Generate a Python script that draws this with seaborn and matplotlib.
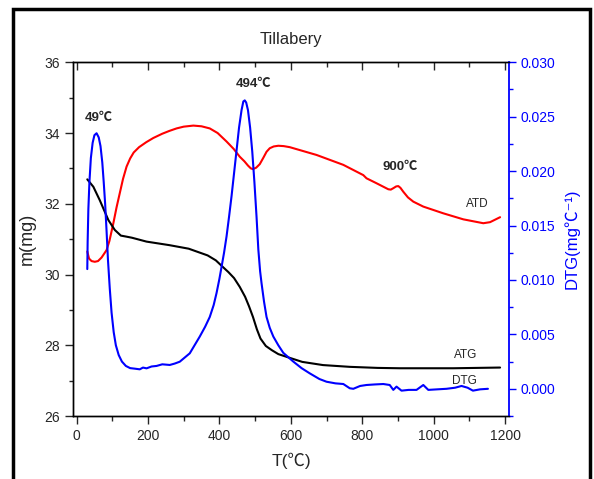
import matplotlib
matplotlib.use("Agg")
import matplotlib.pyplot as plt
import matplotlib.patches as mpatches
from matplotlib.ticker import MultipleLocator, FormatStrFormatter
import pandas as pd
import seaborn as sns

# ATG (mass, left axis)
atg_t = [30, 47, 65, 89, 107, 124, 140, 155, 196, 260, 314, 367, 390, 410, 425, 441,
         457, 472, 483, 494, 505, 515, 530, 547, 565, 589, 632, 690, 765, 843, 905,
         1055, 1186]
atg_m = [32.69, 32.48, 32.1, 31.54, 31.26, 31.1, 31.07, 31.04, 30.93, 30.83, 30.73,
         30.54, 30.4, 30.21, 30.07, 29.9, 29.65, 29.37, 29.1, 28.8, 28.45, 28.19,
         27.98, 27.86, 27.75, 27.67, 27.53, 27.44, 27.39, 27.36, 27.35, 27.35, 27.37]

# ATD (left axis)
atd_t = [30, 35, 42, 51, 60, 70, 78, 84, 92, 103, 112, 121, 130, 140, 150, 160, 175,
         195, 215, 240, 260, 280, 300, 327, 350, 373, 395, 420, 440, 457, 470, 480,
         488, 494, 503, 513, 523, 532, 541, 552, 565, 580, 597, 672, 747, 803, 812,
         840, 873, 880, 887, 895, 901, 907, 915, 928, 943, 971, 1027, 1083, 1139,
         1158, 1186]
atd_m = [30.65, 30.45, 30.38, 30.36, 30.38, 30.48, 30.6, 30.69, 30.95, 31.45, 31.9,
         32.3, 32.7, 33.05, 33.28, 33.45, 33.6, 33.74, 33.86, 33.98, 34.06, 34.13,
         34.18, 34.21, 34.19, 34.13, 34.0, 33.76, 33.55, 33.33, 33.2, 33.08, 33.0,
         32.98, 33.02, 33.12, 33.3, 33.47, 33.57, 33.62, 33.64, 33.63, 33.60, 33.38,
         33.10, 32.81, 32.72, 32.58, 32.41, 32.40, 32.44, 32.49, 32.50, 32.45, 32.34,
         32.18, 32.06, 31.92, 31.73, 31.56, 31.45, 31.48, 31.62]

# DTG (right axis)
dtg_t = [30, 31, 33, 36, 40, 45, 50, 56, 62, 67, 72, 76, 80, 84, 88, 93, 98, 104,
         110, 118, 127, 138, 150, 163, 177, 186, 196, 210, 224, 240, 261, 275, 289,
         317, 345, 360, 373, 384, 392, 400, 406, 413, 420, 427, 434, 441, 448, 455,
         462, 467, 471, 475, 480, 486, 492, 498, 504, 509, 514, 518, 525, 532, 541,
         551, 565, 579, 593, 607, 630, 653, 680, 700, 725, 747, 765, 775, 794, 812,
         835, 859, 877, 887, 896, 910, 930, 952, 971, 985, 1010, 1036, 1060, 1078,
         1095, 1110, 1130, 1152]
dtg_v = [0.0110, 0.0135, 0.0165, 0.0190, 0.0212, 0.0226, 0.0233, 0.02348, 0.0231,
         0.0223, 0.0208, 0.0190, 0.0170, 0.0145, 0.0118, 0.0092, 0.0070, 0.0052,
         0.0040, 0.0031, 0.0025, 0.0021, 0.0019, 0.00185, 0.00179, 0.00195, 0.00188,
         0.00205, 0.0021, 0.00225, 0.00219, 0.00232, 0.00249, 0.00326, 0.0048,
         0.0057, 0.0066, 0.0077, 0.0088, 0.0101, 0.0112, 0.0125, 0.0140, 0.0158,
         0.0177, 0.0198, 0.0219, 0.0240, 0.0256, 0.0264, 0.0265, 0.0263, 0.0256,
         0.0240, 0.0218, 0.0190, 0.0158, 0.0128, 0.0108, 0.0097, 0.0080, 0.0066,
         0.0056, 0.0048, 0.0040, 0.0033, 0.0029, 0.0025, 0.0019, 0.00142, 0.0009,
         0.00065, 0.0005, 0.00044, 0.00005, 0.0, 0.00026, 0.00035, 0.0004, 0.00044,
         0.00035, -0.0001, 0.0002, -0.00017, -0.0001, -0.0001, 0.00035, -0.0001,
         -0.00005, 0.0, 0.0001, 0.00026, 0.0001, -0.00017, -0.00005, 0.0]

annotations = [
    ("49℃", 62, 34.42, "bold", 9.5),
    ("494℃", 497, 35.38, "bold", 9.5),
    ("900℃", 906, 33.05, "bold", 9.5),
    ("ATD", 1122, 31.99, "normal", 8.5),
    ("ATG", 1090, 27.73, "normal", 8.5),
    ("DTG", 1087, 27.0, "normal", 8.5),
]

FONTS = ["Liberation Sans", "Noto Sans CJK SC", "DejaVu Sans"]
BLUE = "#0000ff"


def main() -> None:
    sns.set_style("ticks")
    plt.rcParams["font.family"] = FONTS

    atg = pd.DataFrame({"T": atg_t, "m": atg_m})
    atd = pd.DataFrame({"T": atd_t, "m": atd_m})
    dtg = pd.DataFrame({"T": dtg_t, "v": dtg_v})

    fig = plt.figure(figsize=(5.94, 4.79), dpi=100)
    ax = fig.add_axes([0.1229, 0.1315, 0.734, 0.7385])
    ax2 = ax.twinx()

    sns.lineplot(data=atd, x="T", y="m", ax=ax, color="#ff0000", lw=1.5, estimator=None)
    sns.lineplot(data=atg, x="T", y="m", ax=ax, color="black", lw=1.5, estimator=None)
    sns.lineplot(data=dtg, x="T", y="v", ax=ax2, color=BLUE, lw=1.5, estimator=None)

    ax.set_xlim(-10, 1211)
    ax.set_ylim(26, 36)
    ax2.set_ylim(-0.0025, 0.030)

    ax.xaxis.set_major_locator(MultipleLocator(200))
    ax.xaxis.set_minor_locator(MultipleLocator(100))
    ax.yaxis.set_major_locator(MultipleLocator(2))
    ax.yaxis.set_minor_locator(MultipleLocator(1))
    ax2.yaxis.set_major_locator(MultipleLocator(0.005))
    ax2.yaxis.set_minor_locator(MultipleLocator(0.0025))
    ax2.yaxis.set_major_formatter(FormatStrFormatter("%.3f"))

    ax.tick_params(axis="x", which="major", direction="out", length=6, width=1, labelsize=10)
    ax.tick_params(axis="x", which="minor", direction="out", length=3.5, width=1)
    ax.tick_params(axis="y", which="major", direction="out", length=6, width=1, labelsize=10)
    ax.tick_params(axis="y", which="minor", direction="out", length=3, width=1)
    ax2.tick_params(axis="y", which="major", direction="out", length=5, width=1,
                    colors=BLUE, labelsize=10)
    ax2.tick_params(axis="y", which="minor", direction="out", length=3, width=1, colors=BLUE)

    # inward ticks along the top edge
    top = ax.secondary_xaxis("top")
    top.xaxis.set_major_locator(MultipleLocator(200))
    top.xaxis.set_minor_locator(MultipleLocator(100))
    top.tick_params(which="major", direction="in", length=6, width=1, labeltop=False)
    top.tick_params(which="minor", direction="in", length=3.5, width=1)
    top.spines["top"].set_visible(False)

    for a in (ax, ax2):
        for s in a.spines.values():
            s.set_linewidth(1.0)
            s.set_color("black")
    ax2.spines["right"].set_color(BLUE)
    ax2.spines["right"].set_linewidth(1.3)
    ax.spines["right"].set_visible(False)

    ax.set_xlabel("T(℃)", fontsize=12.5, labelpad=7)
    ax.set_ylabel("m(mg)", fontsize=13, labelpad=6)
    ax2.set_ylabel("DTG(mg℃⁻¹)", fontsize=12, color=BLUE, labelpad=6)
    ax.set_title("Tillabery", fontsize=12, pad=13)

    for text, x, y, weight, size in annotations:
        ax.text(x, y, text, ha="center", va="center", fontsize=size, fontweight=weight)

    frame = mpatches.Rectangle((0.0219, -0.2), 0.971, 1.181, transform=fig.transFigure,
                               fill=False, edgecolor="black", lw=2.5)
    fig.patches.append(frame)

    fig.savefig("out.png", dpi=100)
    plt.close(fig)


if __name__ == "__main__":
    main()
